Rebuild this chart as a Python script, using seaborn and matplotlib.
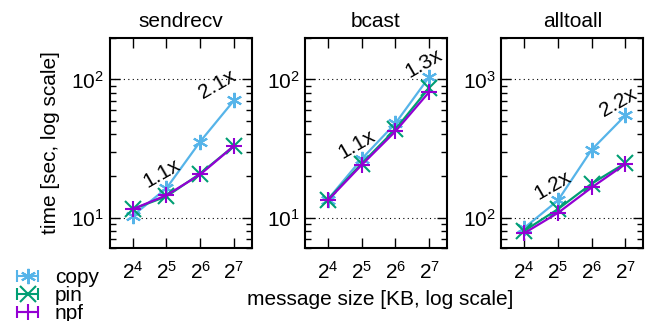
import seaborn as sns
import pandas as pd
import matplotlib.pyplot as plt
from matplotlib.lines import Line2D
from matplotlib.legend_handler import HandlerLine2D, HandlerTuple
from matplotlib.ticker import LogLocator, NullFormatter, LogFormatterSciNotation

sizes = [16, 32, 64, 128]
impls = ['copy', 'pin', 'npf']

sendrecv_copy = [10.3, 16.3, 35.5, 70.5]
sendrecv_pin = [11.5, 14.2, 20.8, 33.0]
sendrecv_npf = [11.5, 14.5, 20.5, 33.0]

bcast_copy = [13.5, 26.5, 48.0, 104.0]
bcast_pin = [13.5, 24.5, 43.5, 87.0]
bcast_npf = [13.3, 24.0, 42.0, 81.0]

alltoall_copy = [84.0, 133.0, 310.0, 550.0]
alltoall_pin = [80.0, 115.0, 176.0, 248.0]
alltoall_npf = [77.0, 108.0, 165.0, 244.0]

# speedup labels: (x, y, text)
sendrecv_notes = [(29, 21, '1.1x'), (90, 92, '2.1x')]
bcast_notes = [(29, 34, '1.1x'), (115, 130, '1.3x')]
alltoall_notes = [(28.5, 170, '1.2x'), (111, 680, '2.2x')]

panels = [
    ('sendrecv', [sendrecv_copy, sendrecv_pin, sendrecv_npf], sendrecv_notes, (6, 200)),
    ('bcast', [bcast_copy, bcast_pin, bcast_npf], bcast_notes, (6, 200)),
    ('alltoall', [alltoall_copy, alltoall_pin, alltoall_npf], alltoall_notes, (60, 2000)),
]

colors = {'copy': '#56B4E9', 'pin': '#009E73', 'npf': '#9400D3'}
markers = {'copy': (6, 2, 0), 'pin': 'x', 'npf': '+'}

sns.set_theme(style='ticks')
plt.rcParams['font.family'] = ['Liberation Sans', 'DejaVu Sans']
plt.rcParams['mathtext.default'] = 'regular'
plt.rcParams['text.color'] = 'black'
plt.rcParams['axes.labelcolor'] = 'black'
FS = 15

fig = plt.figure(figsize=(6.46, 3.21), dpi=100)
lefts = [0.170, 0.472, 0.776]

for left, (name, series, notes, ylim) in zip(lefts, panels):
    ax = fig.add_axes([left, 0.227, 0.220, 0.655])
    for impl, vals in zip(impls, series):
        df = pd.DataFrame({'size': sizes, 'time': vals})
        sns.lineplot(data=df, x='size', y='time', color=colors[impl],
                     marker=markers[impl], markersize=11, markeredgewidth=1.5,
                     markeredgecolor=colors[impl], linewidth=1.6, ax=ax)
    ax.set_xscale('log', base=2)
    ax.set_yscale('log')
    ax.set_xlim(10, 185)
    ax.set_ylim(*ylim)
    ax.xaxis.set_major_locator(LogLocator(base=2, numticks=10))
    ax.xaxis.set_major_formatter(LogFormatterSciNotation(base=2))
    ax.xaxis.set_minor_locator(LogLocator(base=2, subs=[]))
    ax.yaxis.set_major_locator(LogLocator(base=10))
    ax.yaxis.set_minor_locator(LogLocator(base=10, subs=range(2, 10), numticks=20))
    ax.yaxis.set_minor_formatter(NullFormatter())
    ax.tick_params(which='both', direction='in', top=True, right=True,
                   labelsize=FS, color='black', labelcolor='black')
    ax.tick_params(which='major', length=7, width=1)
    ax.tick_params(which='minor', length=4, width=1)
    ax.tick_params(axis='x', pad=9)
    ax.tick_params(axis='y', pad=4)
    ax.grid(axis='y', which='major', linestyle=(0, (1, 3)), color='black', linewidth=0.8)
    for sp in ax.spines.values():
        sp.set_linewidth(1.5)
        sp.set_color('black')
    ax.set_xlabel('')
    ax.set_ylabel('')
    ax.set_title(name, fontsize=FS, pad=8)
    for x, y, t in notes:
        ax.text(x, y, t, rotation=30, ha='center', va='center', fontsize=FS)

fig.text(0.078, 0.555, 'time [sec, log scale]', rotation=90, ha='center', va='center', fontsize=FS)
fig.text(0.588, 0.068, 'message size [KB, log scale]', ha='center', va='center', fontsize=FS)

handles = []
hmap = {tuple: HandlerTuple(ndivide=1)}
for impl in impls:
    cap = Line2D([], [], color=colors[impl], marker='|', markersize=9,
                 markeredgewidth=1.5, linewidth=1.5)
    star = Line2D([], [], color=colors[impl], marker=markers[impl], linestyle='none',
                  markersize=11, markeredgewidth=1.5)
    hmap[cap] = HandlerLine2D(numpoints=2)
    hmap[star] = HandlerLine2D(numpoints=1)
    handles.append((cap, star))
fig.legend(handles, impls, handler_map=hmap,
           loc='upper left', bbox_to_anchor=(0.004, 0.19), frameon=False,
           fontsize=FS, handlelength=1.6, handletextpad=0.5, labelspacing=-0.05,
           borderaxespad=0)

fig.savefig('out.png', dpi=100)
